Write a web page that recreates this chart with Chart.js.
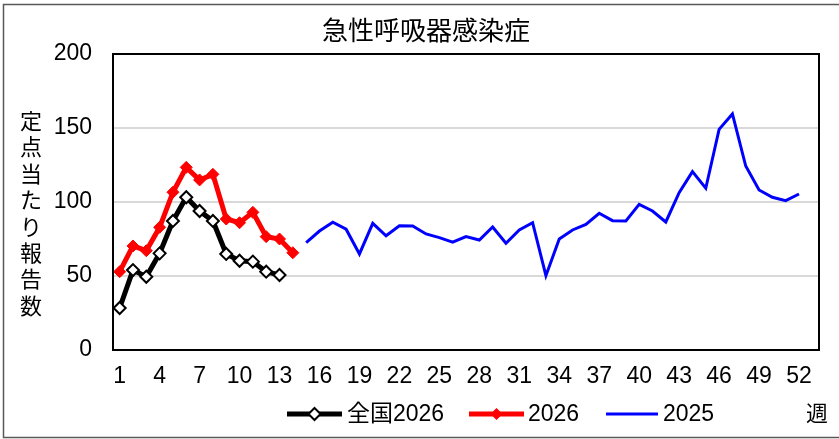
<!DOCTYPE html>
<html>
<head>
<meta charset="utf-8">
<script src="https://cdn.jsdelivr.net/npm/chart.js@4.4.1/dist/chart.umd.min.js"></script>
<style>
  html, body { margin: 0; padding: 0; background: #fff; }
  #wrap { width: 839px; height: 439px; }
</style>
</head>
<body>
<div id="wrap"><canvas id="myLineChartARI" width="839" height="439"></canvas></div>
<script>
// weeks 1..53 (53rd slot only widens the axis, like the original sheet)
const weeks = [];
for (let w = 1; w <= 53; w++) weeks.push(String(w));

const zenkoku2026 = [28.4, 54.0, 49.5, 65.3, 87.2, 103.2, 93.9, 87.2, 64.9, 60.3, 59.7, 52.9, 50.7];
const local2026 = [52.9, 70.3, 67.1, 82.9, 106.6, 123.4, 114.9, 118.7, 88.5, 86.0, 93.0, 76.6, 75.0, 65.7];
// 2025 starts at week 15
const local2025 = [72.5, 80.4, 86.3, 81.6, 64.9, 85.6, 77.2, 84.0, 83.8, 78.4,
  75.9, 72.8, 76.6, 74.3, 83.1, 72.1, 81.1, 86.0, 50.2, 75.0,
  81.1, 84.9, 92.4, 87.4, 87.2, 98.4, 93.9, 86.5, 106.3, 120.5,
  109.3, 149.1, 159.5, 124.3, 108.1, 103.2, 100.9, 105.4];
const yTicks = [0, 50, 100, 150, 200];

const titleText = "急性呼吸器感染症";
const yTitle = "定点当たり報告数";
const xTitle = "週";

function pad(arr, start) {
  const out = [];
  for (let i = 0; i < weeks.length; i++) {
    const v = arr[i - start];
    out.push(v === undefined ? null : v);
  }
  return out;
}

const FONT = '"Liberation Sans", "Noto Sans CJK JP", sans-serif';

const decorPlugin = {
  id: "decor",
  beforeDraw(chart) {
    const c = chart.ctx;
    c.save();
    c.strokeStyle = "#595959";
    c.lineWidth = 1.5;
    c.strokeRect(3.5, 4.5, 850, 433);
    c.restore();
  },
  afterDraw(chart) {
    const c = chart.ctx;
    const a = chart.chartArea;
    c.save();
    c.strokeStyle = "#000";
    c.lineWidth = 2;
    c.strokeRect(a.left, a.top, a.right - a.left, a.bottom - a.top);

    c.fillStyle = "#000";
    c.textAlign = "center";
    c.textBaseline = "middle";
    c.font = "26px " + FONT;
    c.fillText(titleText, 426, 33);

    c.font = "22px " + FONT;
    for (let i = 0; i < yTitle.length; i++) {
      c.fillText(yTitle[i], 31, 123 + i * 26.4);
    }
    c.fillText(xTitle, 817, 415);

    // legend
    const ly = 414;
    const items = [
      { x1: 287, x2: 342, color: "#000", width: 5, fill: "#fff", border: 2, text: "全国2026", tx: 347 },
      { x1: 469, x2: 524, color: "#ff0000", width: 5, fill: "#ff0000", border: 0, text: "2026", tx: 528 },
      { x1: 606, x2: 658, color: "#0000ff", width: 3, fill: null, border: 0, text: "2025", tx: 663 }
    ];
    items.forEach(it => {
      c.strokeStyle = it.color;
      c.lineWidth = it.width;
      c.beginPath();
      c.moveTo(it.x1, ly);
      c.lineTo(it.x2, ly);
      c.stroke();
      if (it.fill) {
        const mx = (it.x1 + it.x2) / 2, r = 6;
        c.beginPath();
        c.moveTo(mx - r, ly);
        c.lineTo(mx, ly - r);
        c.lineTo(mx + r, ly);
        c.lineTo(mx, ly + r);
        c.closePath();
        c.fillStyle = it.fill;
        c.fill();
        if (it.border) {
          c.lineWidth = it.border;
          c.strokeStyle = it.color;
          c.stroke();
        }
      }
      c.fillStyle = "#000";
      c.textAlign = "left";
      c.font = "23px " + FONT;
      c.fillText(it.text, it.tx, ly + 1);
    });
    c.restore();
  }
};

new Chart(document.getElementById("myLineChartARI"), {
  type: "line",
  data: {
    labels: weeks,
    datasets: [
      {
        label: "2025",
        data: pad(local2025, 14),
        borderColor: "#0000ff",
        borderWidth: 3,
        pointRadius: 0,
        tension: 0,
        order: 3
      },
      {
        label: "全国2026",
        data: pad(zenkoku2026, 0),
        borderColor: "#000",
        borderWidth: 5,
        pointStyle: "rectRot",
        pointRadius: 6,
        pointBackgroundColor: "#fff",
        pointBorderColor: "#000",
        pointBorderWidth: 2,
        tension: 0,
        order: 2
      },
      {
        label: "2026",
        data: pad(local2026, 0),
        borderColor: "#ff0000",
        borderWidth: 5,
        pointStyle: "rectRot",
        pointRadius: 6,
        pointBackgroundColor: "#ff0000",
        pointBorderColor: "#ff0000",
        pointBorderWidth: 1,
        tension: 0,
        order: 1
      }
    ]
  },
  options: {
    responsive: false,
    animation: false,
    layout: { padding: { left: 0, top: 54, right: 20, bottom: 0 } },
    plugins: {
      legend: { display: false },
      title: { display: false },
      tooltip: { enabled: false }
    },
    scales: {
      x: {
        type: "category",
        offset: true,
        grid: { display: false, drawTicks: false },
        border: { display: true, color: "#000", width: 2 },
        ticks: {
          autoSkip: false,
          maxRotation: 0,
          padding: 13,
          color: "#000",
          font: { family: FONT, size: 23 },
          callback: (v, i) => (i % 3 === 0 ? weeks[i] : "")
        },
        afterFit: s => { s.height = 89; }
      },
      y: {
        min: 0,
        max: 200,
        afterBuildTicks: s => { s.ticks = yTicks.map(v => ({ value: v })); },
        grid: { color: "#d9d9d9", lineWidth: 2, drawTicks: false },
        border: { display: true, color: "#000", width: 2 },
        ticks: {
          padding: 21,
          color: "#000",
          font: { family: FONT, size: 23 }
        },
        afterFit: s => { s.width = 113; }
      }
    }
  },
  plugins: [decorPlugin]
});
</script>
</body>
</html>
